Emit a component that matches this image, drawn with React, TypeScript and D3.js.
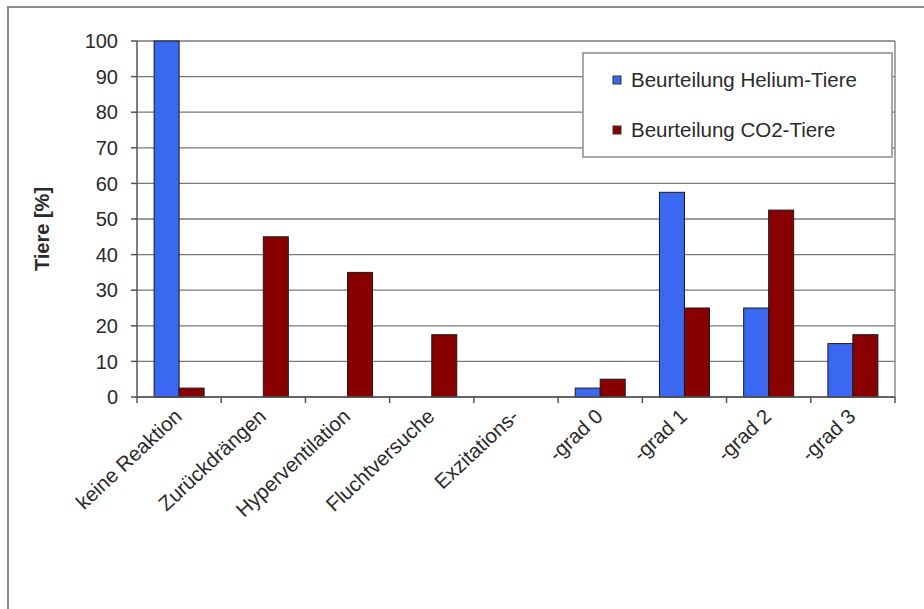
import React from "react";
import * as d3 from "d3";

const categories = [
  "keine Reaktion",
  "Zurückdrängen",
  "Hyperventilation",
  "Fluchtversuche",
  "Exzitations-",
  "-grad 0",
  "-grad 1",
  "-grad 2",
  "-grad 3",
];
const heliumValues: (number | null)[] = [100, null, null, null, null, 2.5, 57.5, 25, 15];
const co2Values: (number | null)[] = [2.5, 45, 35, 17.5, null, 5, 25, 52.5, 17.5];
const seriesNames = ["Beurteilung Helium-Tiere", "Beurteilung CO2-Tiere"];
const seriesColors = ["#3A68F0", "#880000"];
const yTicks = [0, 10, 20, 30, 40, 50, 60, 70, 80, 90, 100];

const W = 924;
const H = 609;
const FONT = "'Liberation Sans', Arial, sans-serif";

export default function App() {
  const left = 137;
  const right = 895;
  const top = 41;
  const bottom = 397;

  const x = d3.scaleBand<string>().domain(categories).range([left, right]).padding(0);
  const y = d3.scaleLinear().domain([0, 100]).range([bottom, top]);
  const inner = d3.scaleBand<number>().domain([0, 1]).range([0, 50]).padding(0);
  const groupOffset = (x.bandwidth() - 50) / 2;

  const series = [heliumValues, co2Values];
  const boundaries = categories.map((c) => x(c)!).concat([right]);

  return (
    <svg
      width={W}
      height={H}
      style={{ position: "absolute", left: 0, top: 0, background: "#fff" }}
      fontFamily={FONT}
    >
      <rect x={0} y={0} width={W} height={H} fill="#fff" />
      {/* outer frame */}
      <rect x={8} y={7} width={940} height={640} fill="none" stroke="#8c8c8c" strokeWidth={2} />

      {/* gridlines */}
      {yTicks.map((t) => (
        <line key={"g" + t} x1={left} x2={right} y1={y(t)} y2={y(t)} stroke="#7a7a7a" strokeWidth={1.3} />
      ))}
      {/* plot right border */}
      <line x1={right} x2={right} y1={top} y2={bottom} stroke="#7a7a7a" strokeWidth={1.3} />

      {/* bars */}
      {series.map((vals, si) =>
        vals.map((v, i) =>
          v == null ? null : (
            <rect
              key={`b${si}-${i}`}
              x={x(categories[i])! + groupOffset + inner(si)!}
              y={y(v)}
              width={inner.bandwidth()}
              height={y(0) - y(v)}
              fill={seriesColors[si]}
              stroke="#1a1a1a"
              strokeWidth={1}
            />
          )
        )
      )}

      {/* y axis */}
      <line x1={left} x2={left} y1={top} y2={bottom} stroke="#555" strokeWidth={1.5} />
      {yTicks.map((t) => (
        <g key={"yt" + t}>
          <line x1={left - 6} x2={left} y1={y(t)} y2={y(t)} stroke="#555" strokeWidth={1.5} />
          <text x={118} y={y(t)} dy="0.36em" textAnchor="end" fontSize={20} fill="#2a2a2a">
            {t}
          </text>
        </g>
      ))}

      {/* x axis */}
      <line x1={left} x2={right} y1={bottom} y2={bottom} stroke="#555" strokeWidth={1.5} />
      {boundaries.map((bx, i) => (
        <line key={"xt" + i} x1={bx} x2={bx} y1={bottom} y2={bottom + 6} stroke="#555" strokeWidth={1.5} />
      ))}
      {categories.map((c) => {
        const cx = x(c)! + x.bandwidth() / 2;
        return (
          <text
            key={"xl" + c}
            transform={`translate(${cx + 4},${418}) rotate(-43)`}
            textAnchor="end"
            fontSize={20.5}
            fill="#2a2a2a"
          >
            {c}
          </text>
        );
      })}

      {/* y title */}
      <text
        transform={`translate(${49},${229}) rotate(-90)`}
        textAnchor="middle"
        fontSize={20}
        fontWeight="bold"
        fill="#2a2a2a"
      >
        Tiere [%]
      </text>

      {/* legend */}
      <rect x={583} y={53} width={309} height={104} fill="#fff" stroke="#8c8c8c" strokeWidth={1.5} />
      {seriesNames.map((n, i) => (
        <g key={"lg" + i}>
          <rect x={613} y={80 + i * 50 - 4} width={8} height={8} fill={seriesColors[i]} stroke="#333" strokeWidth={1} />
          <text x={631} y={80 + i * 50} dy="0.36em" fontSize={20.5} fill="#2a2a2a">
            {n}
          </text>
        </g>
      ))}
    </svg>
  );
}
